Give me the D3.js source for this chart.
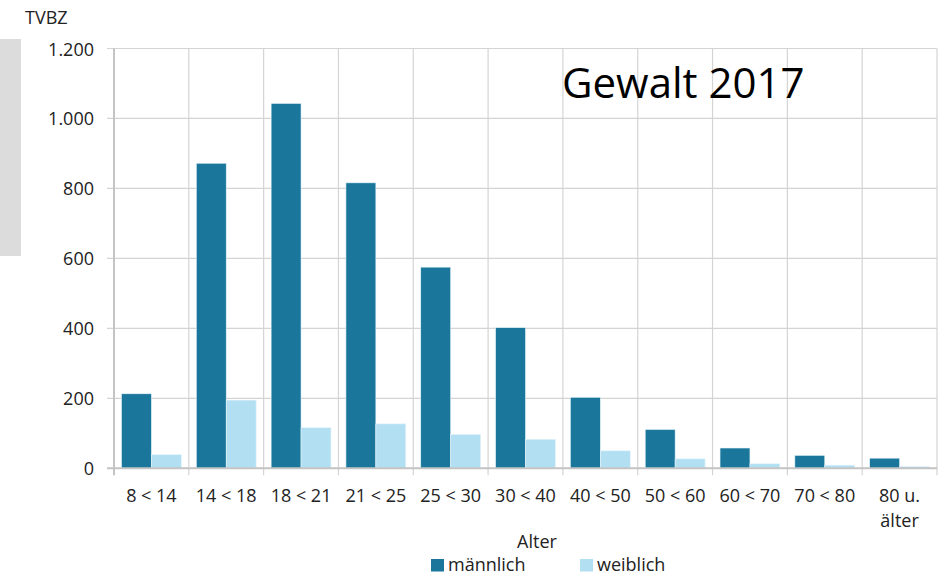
<!DOCTYPE html>
<html>
<head>
<meta charset="utf-8">
<script src="https://cdn.jsdelivr.net/npm/d3@7"></script>
<style>
  html, body { margin: 0; padding: 0; background: #fff; }
  svg { display: block; }
  text { font-family: "Open Sans", "Lato", sans-serif; }
</style>
</head>
<body>
<svg id="chart" width="948" height="579"></svg>
<script>
// Age groups (Tatverdächtigenbelastungszahl, Gewalt 2017)
const categories = ["8 < 14", "14 < 18", "18 < 21", "21 < 25", "25 < 30", "30 < 40",
                    "40 < 50", "50 < 60", "60 < 70", "70 < 80", "80 u.|älter"];
const maleValues   = [213, 872, 1043, 816, 575, 402, 203, 111, 58, 37, 29];
const femaleValues = [39, 195, 116, 127, 97, 83, 50, 27, 13, 9, 5];
const yTicks = [0, 200, 400, 600, 800, 1000, 1200];
const seriesNames = ["männlich", "weiblich"];
const seriesColors = ["#1a779b", "#b2e0f2"];

const svg = d3.select("#chart");
const plot = { left: 114, right: 937, top: 48.5, bottom: 468.3 };

const fmt = d3.formatLocale({ decimal: ",", thousands: ".", grouping: [3], currency: ["", "€"] }).format(",d");

const x = d3.scaleBand().domain(categories).range([plot.left, plot.right]).padding(0);
const x1 = d3.scaleBand().domain(seriesNames).range([0, x.bandwidth()]).paddingOuter(0.25).paddingInner(0);
const y = d3.scaleLinear().domain([0, 1200]).range([plot.bottom, plot.top]);

// grey side panel
svg.append("rect").attr("x", 0).attr("y", 39).attr("width", 21).attr("height", 217).attr("fill", "#dcdcdc");

// horizontal gridlines + left ticks
svg.append("g").selectAll("line").data(yTicks).join("line")
  .attr("x1", plot.left - 7).attr("x2", plot.right)
  .attr("y1", d => y(d)).attr("y2", d => y(d))
  .attr("stroke", "#d4d4d4").attr("stroke-width", 1.2);

// vertical gridlines at category boundaries + bottom ticks
const bounds = categories.map(c => x(c)).concat([plot.right]);
svg.append("g").selectAll("line").data(bounds).join("line")
  .attr("x1", d => d).attr("x2", d => d)
  .attr("y1", plot.top).attr("y2", plot.bottom + 7)
  .attr("stroke", "#d4d4d4").attr("stroke-width", 1.2);

// title
svg.append("text").attr("x", 562).attr("y", 97.5)
  .attr("font-size", 42).attr("fill", "#000").text("Gewalt 2017");

// bars
const groups = svg.append("g").selectAll("g").data(categories).join("g")
  .attr("transform", d => `translate(${x(d)},0)`);
groups.selectAll("rect")
  .data((d, i) => [
    { s: seriesNames[0], v: maleValues[i] },
    { s: seriesNames[1], v: femaleValues[i] }
  ])
  .join("rect")
  .attr("x", d => x1(d.s))
  .attr("width", x1.bandwidth())
  .attr("y", d => y(d.v))
  .attr("height", d => plot.bottom - y(d.v))
  .attr("fill", (d, j) => seriesColors[j])
  .attr("stroke", "#e6f4fa").attr("stroke-width", 0.6);

// axis lines
svg.append("line").attr("x1", plot.left).attr("x2", plot.left)
  .attr("y1", plot.top).attr("y2", plot.bottom + 7)
  .attr("stroke", "#c4c4c4").attr("stroke-width", 2);
svg.append("line").attr("x1", plot.left - 7).attr("x2", plot.right)
  .attr("y1", plot.bottom).attr("y2", plot.bottom)
  .attr("stroke", "#c4c4c4").attr("stroke-width", 2);

// y tick labels
svg.append("g").selectAll("text").data(yTicks).join("text")
  .attr("x", 94).attr("y", d => y(d) + 7)
  .attr("text-anchor", "end").attr("font-size", 18).attr("fill", "#222")
  .text(d => fmt(d));

// y axis title
svg.append("text").attr("x", 25).attr("y", 24).attr("font-size", 18).attr("fill", "#222").text("TVBZ");

// x tick labels
const xl = svg.append("g").selectAll("text").data(categories).join("text")
  .attr("x", d => x(d) + x.bandwidth() / 2).attr("y", 501.5)
  .attr("text-anchor", "middle").attr("font-size", 18).attr("fill", "#222");
xl.selectAll("tspan").data(d => d.split("|")).join("tspan")
  .attr("x", function () { return d3.select(this.parentNode).attr("x"); })
  .attr("dy", (d, i) => i === 0 ? 0 : 25.5)
  .text(d => d);

// x axis title
svg.append("text").attr("x", 537).attr("y", 547.5).attr("text-anchor", "middle")
  .attr("font-size", 18).attr("fill", "#222").text("Alter");

// legend
const legendX = [431, 580];
const lg = svg.append("g").selectAll("g").data(seriesNames).join("g")
  .attr("transform", (d, i) => `translate(${legendX[i]},559)`);
lg.append("rect").attr("width", 13).attr("height", 12.5).attr("fill", (d, i) => seriesColors[i]);
lg.append("text").attr("x", 17).attr("y", 12).attr("font-size", 18).attr("fill", "#222").text(d => d);
</script>
</body>
</html>
